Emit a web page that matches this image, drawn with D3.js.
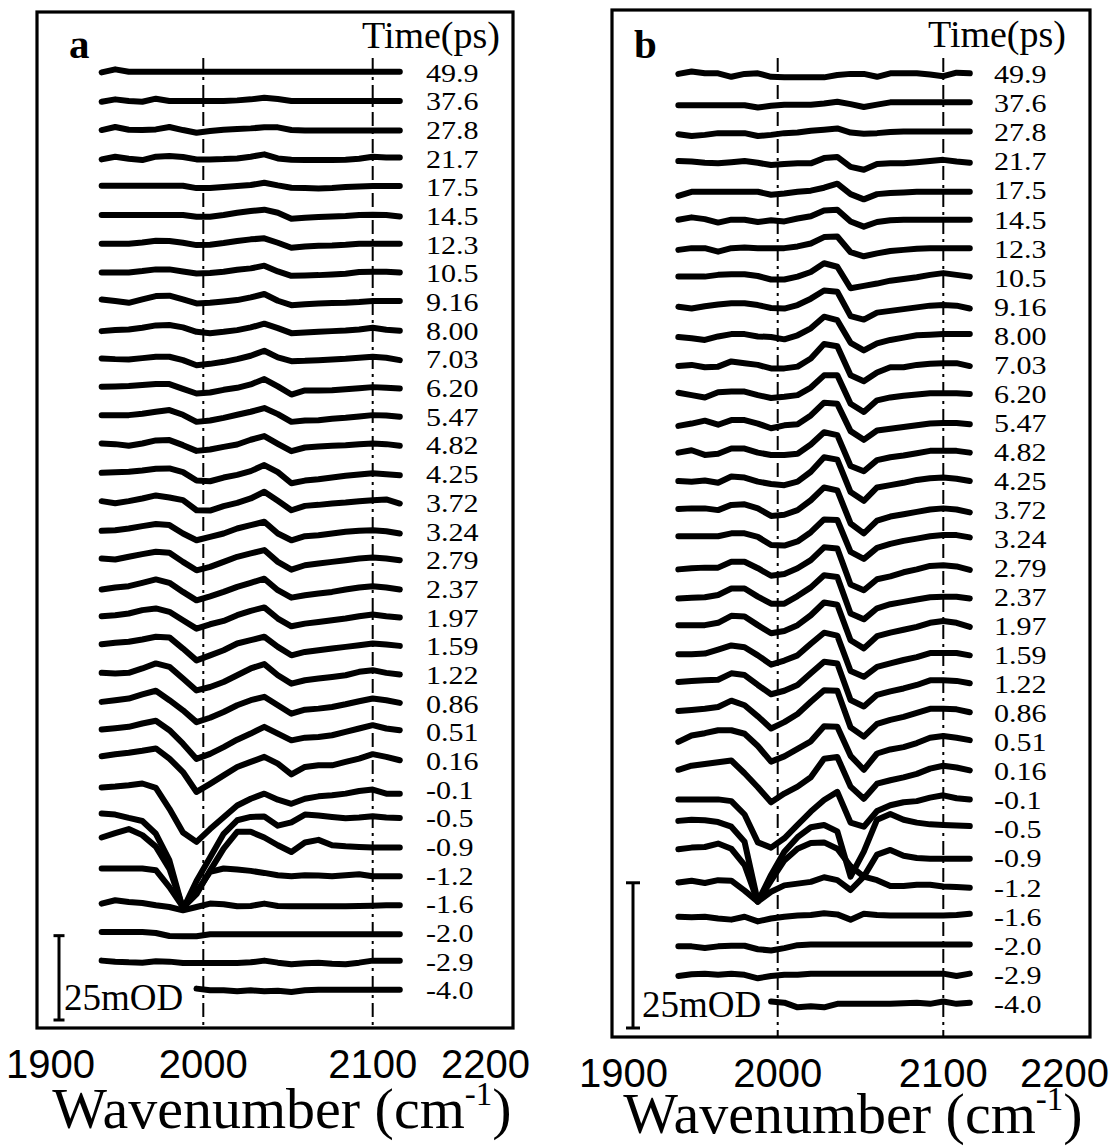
<!DOCTYPE html>
<html><head><meta charset="utf-8">
<script src="https://cdn.jsdelivr.net/npm/d3@7"></script>
<style>body{margin:0;background:#fff} svg{display:block}</style>
</head><body>
<svg id="chart" width="1120" height="1146"></svg>
<script>
// ---------- data ----------
const wavenumbers = [1940,1948,1956,1964,1972,1980,1988,1996,2004,2012,2020,2028,2036,2044,2052,2060,2068,2076,2084,2092,2100,2108,2116];
const delayLabels = ["49.9","37.6","27.8","21.7","17.5","14.5","12.3","10.5","9.16","8.00","7.03","6.20","5.47","4.82","4.25","3.72","3.24","2.79","2.37","1.97","1.59","1.22","0.86","0.51","0.16","-0.1","-0.5","-0.9","-1.2","-1.6","-2.0","-2.9","-4.0"];
const xTickValues = [1900, 2000, 2100, 2200];
const guideWavenumbers = [2000, 2100];
const scaleBarMOD = 25;
const N = null;
// panel a, ΔOD in mOD (one row per delay, top to bottom)
const tracesA = [
[-0.2,0.7,0,0,0,0,0,0,0,0,0,0,0,0,0,0,0,0,0,0,0,0,0],
[-0.4,0.3,-0.2,-0.4,0.5,-0.2,-0.2,-0.2,-0.2,-0.2,0,0.3,0.8,0.4,-0.2,-0.2,-0.2,-0.2,-0.2,-0.2,-0.2,-0.2,-0.2],
[-0.3,0.6,-0.2,-0.3,-0.1,0.6,-0.3,-1.1,-0.6,-0.2,0,0.2,0.5,0.5,-0.3,-0.4,-0.4,-0.4,-0.4,-0.4,-0.4,-0.4,-0.4],
[-0.5,0.3,-0.3,-0.7,0.3,0.5,0.2,-0.5,-0.5,-0.4,-0.2,0.3,1.0,-0.2,-0.6,-0.7,-0.7,-0.7,-0.6,-0.3,0.3,0.1,0.1],
[0.2,0.2,0.2,0.2,0.2,0.2,0.2,-0.5,-0.5,-0.2,0.1,0.4,1.1,0.3,-0.4,-0.5,-0.6,-0.5,-0.2,0,0.1,0.1,0.1],
[0,0,0,0,0,0,0,-0.5,-0.5,0,0.7,1.2,1.6,0.7,-1.1,-0.8,-0.6,-0.4,-0.3,0,0.1,0,-0.4],
[0,0,0,0.4,0.9,0.8,0.3,-0.4,-0.3,0.2,0.8,1.3,1.6,0.3,-1.2,-0.8,-0.6,-0.5,-0.3,0,0,0,0],
[0,0,0,0.4,0.9,0.9,0.3,-0.3,-0.2,0.2,0.8,1.2,2.0,0.3,-1.0,-0.9,-0.8,-0.6,-0.4,0.1,0.2,0.2,0],
[0.5,0,-0.5,0.5,1.5,1.6,0.5,-0.7,-0.5,-0.1,0.3,1.1,2.1,0.1,-1.2,-0.9,-0.7,-0.6,-0.5,-0.3,0,0,0],
[-0.4,-0.1,0.1,0.6,1.3,1.4,0.7,-0.6,-1.0,-0.6,-0.1,0.7,1.8,0.5,-1.0,-0.8,-0.6,-0.4,-0.2,0.1,0.6,0,-0.3],
[0,-0.2,-0.3,0.1,0.5,0.5,-0.5,-2.0,-1.6,-1.0,-0.2,0.8,2.3,0.3,-0.8,-0.7,-0.5,-0.3,-0.1,0.2,0.5,0.2,-0.5],
[0.1,0.2,0.3,0.6,0.9,0.9,-0.5,-1.9,-1.6,-0.8,-0.2,0.8,2.4,0.2,-2.2,-1.0,-1.0,-0.9,-0.6,-0.3,0,-0.2,-0.4],
[0.2,0.2,0.2,0.6,1.2,1.7,0.3,-1.8,-1.4,-0.6,0.3,1.2,2.3,0.5,-1.8,-1.4,-1.3,-0.9,-0.6,-0.2,0.2,0.1,-0.3],
[0.3,0.1,-0.4,0.3,1.2,1.3,-0.2,-1.9,-1.5,-0.7,0,1.4,2.5,0.2,-2.0,-0.9,-0.6,-0.4,-0.2,0.1,0.3,0.1,-0.4],
[0.1,0.3,0.4,0.8,1.3,1.4,0.3,-2.2,-2.4,-1.3,-0.5,0.6,2.4,0.3,-3.0,-2.2,-1.8,-1.3,-0.8,-0.4,0,-0.3,-0.6],
[0.2,-0.4,0.2,1.0,1.9,1.3,0.5,-2.5,-2.6,-1.3,-0.3,1.0,3.0,0.3,-2.5,-1.2,-0.9,-0.5,-0.2,0.2,0.5,0.7,-0.5],
[-0.1,0.1,0.6,1.3,1.9,1.6,-0.9,-2.9,-1.9,-0.9,0.6,1.6,2.6,-0.9,-2.9,-1.7,-1.4,-0.9,-0.4,-0.1,0.1,-0.2,-0.9],
[0.2,-0.1,0.7,1.5,2.2,1.9,-0.8,-3.3,-2.3,-0.8,0.7,1.7,2.7,-0.8,-3.1,-1.8,-1.3,-0.8,-0.3,0.2,0.5,0.2,-0.3],
[-0.5,0.1,0.5,1.5,2.5,1.5,-1.2,-3.7,-2.5,-1.2,0.3,1.5,2.7,-0.7,-2.9,-2.2,-1.7,-1.2,-0.5,0.1,0.5,0.1,-0.5],
[0.1,0.4,0.9,1.9,2.4,1.4,-1.1,-3.6,-2.3,-1.3,0.4,1.7,2.7,-0.6,-2.9,-2.1,-1.6,-1.1,-0.6,0.1,0.6,0.1,-0.3],
[0.3,0.7,1.0,1.7,2.5,2.3,-1.0,-4.5,-3.0,-1.5,0.5,1.5,2.5,-0.5,-3.0,-2.0,-1.5,-1.0,-0.5,0,0.5,0.2,-0.2],
[0.3,0.1,0.3,1.6,3.1,2.1,-1.4,-4.9,-3.9,-2.4,-0.4,1.6,2.9,-0.4,-2.9,-1.9,-1.4,-0.9,-0.4,0.6,1.1,0.3,-0.2],
[0.2,0.7,1.2,2.4,3.5,0.7,-2.3,-5.8,-4.5,-2.8,-0.8,0.7,1.7,-0.8,-3.3,-2.1,-1.8,-1.3,-0.5,0.4,1.2,0.7,-0.1],
[0.5,0.9,1.3,2.3,3.1,0.3,-3.7,-8.2,-6.7,-4.7,-2.5,-0.7,1.3,-0.7,-2.7,-1.9,-1.7,-1.2,-0.2,0.8,1.8,0.8,0.3],
[1.1,1.7,2.1,2.7,3.4,0.4,-3.6,-9.5,-7.1,-4.6,-2.1,-0.6,0.9,-1.1,-4.3,-2.1,-1.6,-1.6,-0.6,0.4,1.7,0.9,-0.1],
[0.3,0.6,1.0,1.5,0.2,-6.0,-13.0,-15.8,-12.0,-8.5,-5.0,-3.0,-1.5,-3.3,-4.5,-3.0,-2.3,-2.0,-1.5,-0.7,-0.3,-1.5,-1.5],
[1.1,0.8,-0.2,-1.1,-4.9,-12.8,-27.3,-18.9,-11.9,-4.9,-0.9,0.1,0.2,-2.5,-1.5,0.8,0.5,0.1,-0.3,-0.1,0.3,-0.1,-0.2],
[2.5,3.8,5.0,3.2,-0.2,-6.8,-18.3,-14.3,-7.3,-0.8,4.2,4.2,2.5,0.2,-1.8,1.0,1.8,0.2,-0.1,-0.3,-0.5,-0.5,-0.5],
[1.8,1.8,1.8,1.8,1.3,-3.7,-9.6,-5.1,0.8,1.8,1.5,1.1,0.5,-0.2,-0.5,-0.2,-0.3,-0.5,-0.2,0.1,-0.5,-0.5,-0.5],
[-0.1,0.9,0.4,0.1,-0.6,-1.1,-2.1,-1.1,-0.1,-0.3,-0.9,-0.8,-0.1,-0.8,-0.9,-0.9,-0.9,-0.9,-0.9,-0.8,-0.7,-0.6,-0.6],
[0,0,0,0,-0.3,-1.2,-1.3,-1.3,-0.7,-0.7,-0.7,-0.7,-0.7,-0.7,-0.7,-0.7,-0.7,-0.7,-0.7,-0.7,-0.7,-0.7,-0.7],
[0,-0.3,-0.5,-0.6,-0.2,-0.3,-0.7,-0.7,-0.7,-0.7,-0.7,-0.5,0,-0.6,-1.1,-0.8,-0.6,-0.9,-1.1,-0.6,0,0,0],
[N,N,N,N,N,N,N,0.2,-0.3,-0.3,-0.6,-0.3,-0.6,-0.4,-0.8,-0.3,-0.1,-0.1,-0.1,-0.1,-0.1,-0.1,-0.1]
];
// panel b, ΔOD in mOD
const tracesB = [
[-0.1,0.3,0,0,-0.6,-0.1,0,-0.6,-0.7,-0.7,-0.7,-0.7,-0.3,-0.1,-0.1,-0.6,0,0,0,-0.2,-0.5,0.1,0],
[-0.5,-0.5,-0.5,-0.5,-0.5,-0.5,-0.9,-0.6,-0.4,-0.4,-0.4,-0.2,0.1,-0.3,-0.8,-0.4,0,0,0,0,0,0,0],
[-0.5,-0.8,-0.6,-0.3,-0.3,-0.3,-0.8,-0.6,-0.3,-0.2,0.1,0.3,0.5,-0.2,-0.4,-0.3,-0.1,0,0,0,0,0,0],
[-0.1,-0.2,-0.4,-0.5,-0.3,-0.1,-0.4,-0.8,-0.6,-0.5,-0.5,0.4,0.6,-1.1,-1.6,-0.6,-0.5,-0.5,-0.3,-0.1,0.1,-0.2,-0.4],
[-1.1,-0.4,-0.4,-0.4,-0.4,-0.4,-0.4,-0.9,-0.7,-0.4,-0.2,0.3,1.0,-0.8,-1.7,-0.8,-0.6,-0.5,-0.4,-0.4,-0.4,-0.4,-0.4],
[-0.2,0.2,-0.1,-0.7,-0.2,-0.2,-0.6,-0.3,-0.5,0,0.4,1.4,1.5,-0.5,-1.4,-0.6,-0.3,-0.2,-0.2,-0.2,-0.2,-0.2,-0.2],
[-0.4,-0.1,-0.1,-0.7,-0.1,0,-0.1,-0.1,-0.1,0.2,0.7,1.8,1.9,-0.8,-1.5,-1.0,-0.6,-0.4,-0.2,-0.1,-0.1,-0.1,-0.1],
[0,0,0,0.3,0.4,0.4,0.1,-0.5,-0.5,0,0.8,2.3,1.7,-2.0,-1.6,-1.2,-0.7,-0.4,-0.1,0.3,0.6,0.3,0],
[-0.2,-0.5,-0.1,0.2,0.4,0.4,0.1,-0.4,-0.5,0.1,1.2,2.6,2.4,-1.8,-2.4,-1.2,-0.9,-0.6,-0.3,0,0.1,0,-0.5],
[-0.4,-0.6,-0.9,-0.3,0.1,0.1,-0.3,-0.4,-0.8,-0.1,1.1,3.1,2.5,-1.4,-2.7,-1.5,-0.9,-0.5,-0.1,0,0.1,0.1,0.1],
[-0.4,-0.2,-0.6,-0.5,0.4,0.1,-0.2,-0.8,-0.8,-0.5,0.9,3.4,3.0,-2.0,-3.0,-1.5,-0.6,-0.6,-0.2,0,0.1,0.1,-0.4],
[0,-0.4,-0.8,0.1,0.2,0.2,-0.4,-0.9,-0.7,-0.4,0.9,3.0,3.0,-1.9,-3.3,-1.3,-0.8,-0.5,-0.3,-0.1,-0.1,-0.1,-0.2],
[-0.7,-0.3,0.2,-0.5,0.3,0.3,-0.3,-1.1,-0.6,-0.4,1.1,3.3,3.1,-1.6,-3.1,-1.5,-1.2,-0.9,-0.6,-0.3,-0.2,-0.2,-0.4],
[-0.3,0.1,-0.7,-0.5,0.4,0.4,-0.3,-0.7,-0.7,-0.5,1.1,3.2,2.7,-2.6,-3.5,-1.6,-1.1,-0.8,-0.4,0,0,0,-0.3],
[-0.2,-0.3,-0.1,-0.5,0.6,0.4,-0.3,-0.7,-0.9,-0.3,1.4,3.9,3.5,-2.1,-3.6,-1.3,-0.9,-0.5,0,0.3,0.4,0.2,-0.2],
[0,0.1,0.1,-0.2,0.7,0.8,0.1,-1.2,-1.0,-0.2,1.5,3.7,3.2,-2.5,-4.2,-2.0,-1.3,-0.9,-0.5,-0.1,0.1,-0.1,-0.6],
[0.3,0.3,0.3,0.3,0.8,0.8,0.2,-1.2,-1.3,-0.6,1.0,3.2,3.1,-2.4,-3.6,-1.7,-1.0,-0.5,-0.1,0.3,0.5,0.5,0.1],
[-0.4,-0.2,-0.1,-0.1,0.9,0.9,-0.2,-1.5,-1.2,-0.2,1.2,3.4,3.2,-3.0,-4.0,-2.1,-1.6,-0.9,-0.4,0.2,0.3,0.1,-0.5],
[-0.4,-0.3,-0.2,0.2,1.3,1.3,-0.1,-1.3,-1.3,0,1.5,3.6,3.3,-3.0,-4.0,-2.1,-1.4,-1.0,-0.6,-0.2,-0.1,-0.1,-0.4],
[0,0,0,0.4,1.6,1.5,0,-1.4,-1.0,0,1.7,3.9,3.5,-2.6,-4.0,-1.9,-1.3,-0.8,-0.3,0.4,0.7,0.4,-0.3],
[0,0,0.1,0.8,1.5,1.2,-0.2,-1.8,-1.1,-0.2,1.8,3.7,3.2,-2.9,-3.9,-2.2,-1.6,-1.0,-0.5,0.2,0.2,0.2,-0.2],
[0.2,0.4,0.5,0.6,1.7,1.4,-0.3,-1.9,-1.3,-0.3,1.7,3.7,3.4,-2.9,-4.0,-2.0,-1.4,-0.9,-0.3,0.5,0.5,0.4,0],
[0.2,0.4,0.6,0.9,2.0,1.2,-0.7,-2.8,-1.7,-0.3,1.8,3.8,3.7,-2.6,-4.2,-2.0,-1.3,-0.8,-0.1,0.6,0.6,0.5,0],
[-0.1,1.0,1.4,1.9,1.9,1.3,-0.8,-3.5,-2.6,-1.3,0,2.6,2.5,-2.5,-4.9,-2.1,-1.4,-1.0,-0.3,0.6,0.9,0.6,0.2],
[0.1,0.8,1.1,1.4,1.7,-0.5,-2.9,-5.5,-4.0,-2.8,-1.2,2.0,2.3,-2.8,-4.9,-2.3,-1.7,-1.2,-0.6,0.3,0.8,0.5,0],
[0,0,0,0,-0.3,-2.6,-7.4,-8.3,-6.7,-4.4,-2.1,-0.1,1.3,-4.0,-4.7,-2.0,-1.0,-0.5,-0.3,0.3,0.7,0.2,0],
[1.3,1.5,1.4,1.1,0.3,-2.3,-12.6,-8.0,-4.0,-1.5,0.2,0.6,-0.5,-8.3,-4.0,1.5,2.5,1.5,1.0,0.7,0.6,0.5,0.4],
[1.4,1.7,1.8,2.4,1.5,-1.3,-7.6,-4.0,-0.5,1.5,2.5,2.6,1.5,-1.5,-3.3,0.5,1.3,0.3,-0.1,-0.2,-0.2,-0.2,-0.2],
[0.7,1.0,0.6,1.1,1.0,-0.7,-2.6,-0.9,0.2,0.5,0.8,1.6,1.1,-0.6,1.7,1.1,0.1,0.1,0.3,0.3,0,-0.1,-0.2],
[-0.2,-0.3,-0.2,-0.5,-0.7,-0.2,-1.0,-0.5,-0.2,0,0.1,0.4,0.2,-0.7,0.3,0.1,0,0,0,0,0,0.1,0.3],
[-0.3,-0.3,-0.6,-0.3,-0.2,-0.2,-0.8,-1.0,-0.6,-0.1,0,0,0,0,0,0,0,0,0,0,0,0,0],
[-0.4,-0.1,0,-0.2,0,-0.2,-0.8,-0.4,-0.2,-0.2,0,0,0,0,0,0,0,0,0,0,0,-0.4,0],
[N,N,N,N,N,N,N,0.2,0,-0.8,-0.6,-0.8,-0.2,-0.2,-0.2,-0.2,-0.2,-0.1,0,-0.2,0.2,-0.2,0]
];

// ---------- layout ----------
const panels = [
  { letter:"a", traces:tracesA, step:8.5,
    box:[37,12,513,1028], xr:[203.3,372.7], yr:[989.3,71.7],
    letterX:69, timeX:362, timeY:48, labelX:426, guideTop:58,
    tickY:1078, titleX:282, titleY:1128, titleSize:58, colL:6, colR:530,
    barX:59, barBottom:1020, barCap:11, odX:64, odY:1010 },
  { letter:"b", traces:tracesB, step:5,
    box:[612,10,1090,1037], xr:[777.7,943.3], yr:[1002.7,73.3],
    letterX:634, timeX:928, timeY:47, labelX:994, guideTop:58,
    tickY:1087, titleX:853, titleY:1133, titleSize:58, colL:579, colR:1109,
    barX:633, barBottom:1028, barCap:14, odX:642, odY:1017 }
];

const svg = d3.select("#chart");
const serif = "'Liberation Serif','Times New Roman',serif";
const sans = "'Liberation Sans',Arial,sans-serif";

panels.forEach(p => {
  const g = svg.append("g");
  const nT = p.traces.length;
  const x = d3.scaleLinear().domain([2000, 2100]).range(p.xr);
  const y = d3.scaleLinear().domain([0, (nT - 1) * p.step]).range(p.yr);
  const base = i => (nT - 1 - i) * p.step;

  // frame
  g.append("rect").attr("x", p.box[0]).attr("y", p.box[1])
    .attr("width", p.box[2] - p.box[0]).attr("height", p.box[3] - p.box[1])
    .attr("fill", "none").attr("stroke", "#000").attr("stroke-width", 3.2);

  // guide lines (dash-dot)
  g.selectAll("line.guide").data(guideWavenumbers).join("line")
    .attr("x1", d => x(d)).attr("x2", d => x(d))
    .attr("y1", p.guideTop).attr("y2", p.box[3])
    .attr("stroke", "#000").attr("stroke-width", 2)
    .attr("stroke-dasharray", "14,5,3,5");

  // traces
  const line = d3.line()
    .defined(d => d.v !== null)
    .x(d => x(d.w)).y(d => y(d.b + d.v));
  g.selectAll("path.trace").data(p.traces).join("path")
    .attr("d", (row, i) => line(row.map((v, j) => ({ w: wavenumbers[j], v: v, b: base(i) }))))
    .attr("fill", "none").attr("stroke", "#000").attr("stroke-width", 6)
    .attr("stroke-linecap", "round").attr("stroke-linejoin", "round");

  // delay labels (slightly widened serif, as in the original)
  g.selectAll("text.delay").data(delayLabels).join("text")
    .attr("transform", (d, i) => `translate(${p.labelX},${y(base(i)) + 10}) scale(1.18,1)`)
    .attr("font-family", serif).attr("font-size", 25.5).text(d => d);

  // header
  g.append("text").attr("x", p.timeX).attr("y", p.timeY)
    .attr("font-family", serif).attr("font-size", 38).text("Time(ps)");
  g.append("text").attr("x", p.letterX).attr("y", 58)
    .attr("font-family", serif).attr("font-weight", "bold").attr("font-size", 41).text(p.letter);

  // scale bar
  const barLen = Math.abs(y(scaleBarMOD) - y(0));
  const bt = p.barBottom - barLen;
  g.append("line").attr("x1", p.barX).attr("x2", p.barX).attr("y1", bt).attr("y2", p.barBottom)
    .attr("stroke", "#000").attr("stroke-width", 3);
  [bt, p.barBottom].forEach(yy => g.append("line")
    .attr("x1", p.barX - p.barCap / 2).attr("x2", p.barX + p.barCap / 2)
    .attr("y1", yy).attr("y2", yy).attr("stroke", "#000").attr("stroke-width", 3));
  g.append("text").attr("x", p.odX).attr("y", p.odY)
    .attr("font-family", serif).attr("font-size", 37).text(scaleBarMOD + "mOD");

  // x tick labels (kept inside the panel column)
  g.selectAll("text.tick").data(xTickValues).join("text")
    .attr("x", d => x(d)).attr("y", p.tickY).attr("text-anchor", "middle")
    .attr("font-family", sans).attr("font-size", 40).text(d => d)
    .each(function (d) {
      const w = this.getComputedTextLength();
      const cx = Math.max(p.colL + w / 2, Math.min(p.colR - w / 2, x(d)));
      d3.select(this).attr("x", cx);
    });

  // axis title
  const t = g.append("text").attr("x", p.titleX).attr("y", p.titleY)
    .attr("text-anchor", "middle").attr("font-family", serif).attr("font-size", p.titleSize);
  t.append("tspan").text("Wavenumber (cm");
  t.append("tspan").attr("font-size", 33).attr("dy", -23).text("-1");
  t.append("tspan").attr("dy", 23).text(")");
});
</script>
</body></html>
